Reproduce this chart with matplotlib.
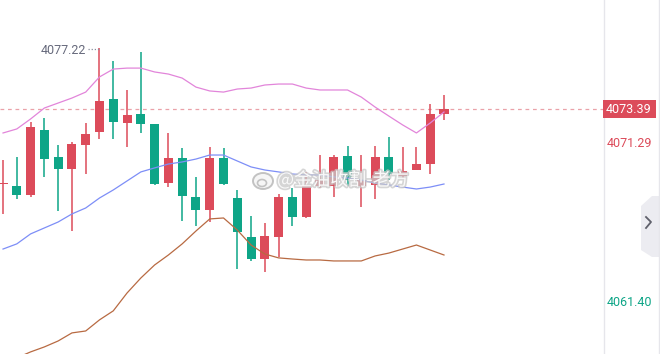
import matplotlib
matplotlib.use('Agg')
import matplotlib.pyplot as plt
import matplotlib.patheffects as pe
from matplotlib.patches import Polygon, Rectangle, Ellipse
import numpy as np

# K线数据
opens = [4068.75, 4068.63, 4068.07, 4072.10, 4070.43, 4069.68, 4071.17, 4071.98, 4074.03, 4072.54, 4073.10,
         4072.48, 4068.81, 4070.37, 4067.94, 4067.14, 4070.37, 4067.88, 4065.46, 4064.09, 4065.46, 4067.94,
         4066.70, 4068.63, 4068.63, 4070.49, 4068.63, 4068.69, 4070.43, 4069.25, 4069.62, 4069.99, 4073.10]
highs = [4070.24, 4070.43, 4072.60, 4072.85, 4071.17, 4071.36, 4072.54, 4077.22, 4076.39, 4074.59, 4076.95,
         4072.48, 4071.92, 4070.99, 4069.19, 4071.05, 4070.99, 4068.38, 4066.76, 4066.33, 4068.13, 4068.50,
         4069.50, 4070.55, 4070.55, 4071.11, 4070.55, 4071.11, 4071.67, 4071.05, 4071.05, 4073.72, 4074.28]
lows = [4066.89, 4067.82, 4067.94, 4069.19, 4067.07, 4065.83, 4069.37, 4071.55, 4071.55, 4071.05, 4071.92,
        4068.69, 4068.56, 4066.45, 4066.14, 4066.39, 4068.69, 4063.47, 4063.97, 4063.29, 4064.22, 4066.14,
        4066.64, 4068.50, 4067.94, 4068.63, 4067.32, 4067.82, 4069.00, 4069.12, 4069.62, 4069.37, 4072.73]
closes = [4068.75, 4068.07, 4072.29, 4070.30, 4069.68, 4071.23, 4071.86, 4073.91, 4072.60, 4073.04, 4072.48,
          4068.75, 4070.37, 4068.00, 4067.14, 4070.37, 4068.75, 4065.77, 4064.09, 4065.52, 4067.94, 4066.70,
          4068.69, 4069.00, 4070.43, 4069.00, 4069.00, 4070.43, 4069.37, 4069.56, 4069.99, 4073.10, 4073.39]

# 布林带
boll_upper = [4071.92, 4072.17, 4072.79, 4073.47, 4073.78, 4074.09, 4074.46, 4075.40, 4075.89, 4075.95, 4075.95,
              4075.71, 4075.58, 4075.33, 4074.77, 4074.53, 4074.46, 4074.65, 4074.71, 4074.90, 4074.96, 4074.96,
              4074.71, 4074.59, 4074.59, 4074.59, 4074.15, 4073.53, 4072.97, 4072.42, 4071.92, 4072.54, 4073.22]
boll_mid = [4064.71, 4065.03, 4065.65, 4066.02, 4066.39, 4066.89, 4067.26, 4067.88, 4068.38, 4068.94, 4069.50,
            4069.75, 4069.99, 4070.12, 4070.30, 4070.55, 4070.55, 4070.18, 4069.81, 4069.62, 4069.50, 4069.37,
            4069.31, 4069.31, 4069.19, 4069.12, 4069.00, 4068.81, 4068.69, 4068.56, 4068.44, 4068.56, 4068.75]
boll_lower = [4057.64, 4057.95, 4058.32, 4058.63, 4059.00, 4059.50, 4059.62, 4060.31, 4060.87, 4061.98, 4062.91,
              4063.72, 4064.34, 4065.03, 4065.83, 4066.58, 4066.64, 4065.89, 4064.96, 4064.40, 4064.16, 4064.09,
              4064.03, 4064.03, 4063.97, 4063.97, 4063.97, 4064.28, 4064.46, 4064.71, 4064.96, 4064.65, 4064.34]

last_price = 4073.39
axis_labels = [(4073.39, 'last'), (4071.29, 'up'), (4061.40, 'down')]
max_label = '4077.22'
watermark = '@金油收割-老方'

RED = '#dc4b5a'
GREEN = '#0ea587'

W, H = 660, 354
YMIN, YMAX = 4058.19, 4080.18
fig = plt.figure(figsize=(W / 100, H / 100), dpi=100)
ax = fig.add_axes([0, 0, 603 / W, 1])
ax.set_xlim(-0.22, 43.54)
ax.set_ylim(YMIN, YMAX)
ax.axis('off')

x = np.arange(len(opens))
o = np.array(opens)
c = np.array(closes)
colors = [RED if cc >= oo else GREEN for oo, cc in zip(o, c)]

ax.vlines(x, lows, highs, colors=colors, linewidth=1.1, zorder=2)
bottoms = np.minimum(o, c)
heights = np.maximum(np.abs(c - o), 0.07)
ax.bar(x, heights, bottom=bottoms, width=0.66, color=colors, linewidth=0, zorder=3)

ax.plot(x, boll_upper, color='#e285da', linewidth=0.9, zorder=4)
ax.plot(x, boll_mid, color='#7d8ef7', linewidth=0.9, zorder=4)
ax.plot(x, boll_lower, color='#b86a42', linewidth=0.9, zorder=4)

# 现价虚线
ax.axhline(last_price, color='#eaa2a9', linewidth=0.9, linestyle=(0, (3, 3)), zorder=1)

# 最高价标注
imax = int(np.argmax(highs))
ax.plot([imax - 0.8, imax - 0.05], [highs[imax] - 0.1, highs[imax] - 0.1], color='#8a8d9c',
        linestyle=(0, (1, 1.5)), linewidth=0.9, zorder=5)
ax.text(imax - 0.95, highs[imax] - 0.2, max_label, ha='right', va='center', fontsize=9,
        color='#676a7c', family='Roboto')

# 右侧坐标
def fp(px, py):
    return (px / W, 1 - py / H)

def price_y(v):
    return (v - YMIN) / (YMAX - YMIN)

fig.add_artist(plt.Line2D([603.5 / W, 603.5 / W], [0, 1], color='#e6e6eb', linewidth=1))
fig.add_artist(plt.Line2D([658.5 / W, 658.5 / W], [0, 1], color='#e6e6eb', linewidth=1))
for val, kind in axis_labels:
    if kind == 'last':
        fig.add_artist(Rectangle((603 / W, price_y(val) - 9 / H), 53 / W, 18 / H, transform=fig.transFigure,
                                 facecolor=RED, edgecolor='none', zorder=5))
        fig.text(606 / W, price_y(val), f'{val:.2f}', ha='left', va='center', fontsize=9,
                 color='white', family='Roboto', zorder=6)
    else:
        col = RED if kind == 'up' else GREEN
        fig.text(607 / W, price_y(val), f'{val:.2f}', ha='left', va='center', fontsize=9,
                 color=col, family='Roboto', zorder=6)

# 右侧折叠按钮
tab = Polygon([fp(641, 206), fp(652, 196), fp(660, 196), fp(660, 257), fp(652, 257), fp(641, 250)],
              closed=True, transform=fig.transFigure, facecolor='#ececf1', edgecolor='none')
fig.add_artist(tab)
fig.add_artist(plt.Line2D([fp(646, 217)[0], fp(651, 222)[0], fp(646, 228)[0]],
                          [fp(646, 217)[1], fp(651, 222)[1], fp(646, 228)[1]],
                          color='#5f606b', linewidth=1.3))

# 水印
wx, wy = fp(277, 180)
fig.text(wx, wy, watermark, ha='left', va='center', fontsize=13, color='#f9f9f9',
         family=['Noto Sans CJK SC', 'DejaVu Sans'],
         path_effects=[pe.withStroke(linewidth=2.4, foreground='#c8c8c8', alpha=0.75)], zorder=10)
ex, ey = fp(263, 181)
fig.add_artist(Ellipse((ex, ey), 20 / W, 16 / H, transform=fig.transFigure, facecolor='#f5f5f5',
                       edgecolor='#bdbdbd', linewidth=1.4, alpha=0.9, zorder=10))
fig.add_artist(Ellipse((ex - 1 / W, ey - 2 / H), 9 / W, 7 / H, transform=fig.transFigure, facecolor='none',
                       edgecolor='#bdbdbd', linewidth=1.2, alpha=0.9, zorder=10))

fig.savefig('out.png', dpi=100)
